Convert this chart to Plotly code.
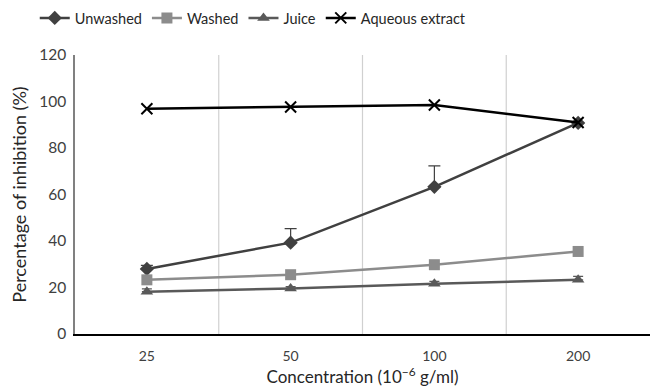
import plotly.graph_objects as go

categories = ["25", "50", "100", "200"]
unwashed = [28.0, 39.3, 63.3, 90.8]
unwashed_err = [1.5, 6.0, 9.0, 0.0]
washed = [23.3, 25.5, 29.8, 35.5]
juice = [18.2, 19.6, 21.6, 23.3]
juice_err = [1.2, 0.8, 1.0, 1.5]
aqueous = [96.9, 97.6, 98.5, 91.0]

FONT = "Lato"
fig = go.Figure()

fig.add_trace(go.Scatter(
    x=categories, y=unwashed, name="Unwashed", mode="lines+markers",
    line=dict(color="#404040", width=2.5),
    marker=dict(symbol="diamond", size=11, color="#404040"),
    error_y=dict(type="data", array=unwashed_err, arrayminus=[0]*4,
                 color="#404040", thickness=1.2, width=6),
))
fig.add_trace(go.Scatter(
    x=categories, y=washed, name="Washed", mode="lines+markers",
    line=dict(color="#8c8c8c", width=2.5),
    marker=dict(symbol="square", size=11, color="#8c8c8c"),
))
fig.add_trace(go.Scatter(
    x=categories, y=juice, name="Juice", mode="lines+markers",
    line=dict(color="#595959", width=2.5),
    marker=dict(symbol="triangle-up", size=11, color="#595959"),
    error_y=dict(type="data", array=juice_err, arrayminus=[0]*4,
                 color="#595959", thickness=1.2, width=5),
))
fig.add_trace(go.Scatter(
    x=categories, y=aqueous, name="Aqueous extract", mode="lines+markers",
    line=dict(color="#000000", width=2.5),
    marker=dict(symbol="x-thin", size=11, line=dict(color="#000000", width=2)),
))

fig.update_layout(
    width=653, height=387,
    margin=dict(l=75, r=3, t=55, b=53, autoexpand=False),
    plot_bgcolor="white", paper_bgcolor="white",
    font=dict(family=FONT, size=15, color="#404040"),
    showlegend=True,
    legend=dict(orientation="h", x=-0.07, xanchor="left", y=1.19, yanchor="top",
                font=dict(size=14.5, color="#262626"),
                itemsizing="trace", traceorder="normal"),
    xaxis=dict(
        type="category", range=[-0.5, 3.5],
        showgrid=False,
        showline=True, linecolor="#000000", linewidth=1.5,
        ticks="", ticklabelstandoff=8,
        tickfont=dict(size=14, color="#404040"),
        title=dict(text="Concentration (10<sup>−6</sup> g/ml)", standoff=5,
                   font=dict(size=17, color="#262626")),
    ),
    yaxis=dict(
        range=[0, 120], dtick=20,
        showgrid=False, zeroline=False,
        showline=True, linecolor="#808080", linewidth=1.5,
        ticks="", ticklabelstandoff=4,
        tickfont=dict(size=15.5, color="#404040"),
        title=dict(text="Percentage of inhibition (%)", standoff=8,
                   font=dict(size=18, color="#262626")),
    ),
)

for xb in [0.5, 1.5, 2.5]:
    fig.add_shape(type="line", xref="x", yref="paper", x0=xb, x1=xb, y0=0, y1=1,
                  line=dict(color="#d0d0d0", width=1.2), layer="below")

fig.write_html("out.html")
